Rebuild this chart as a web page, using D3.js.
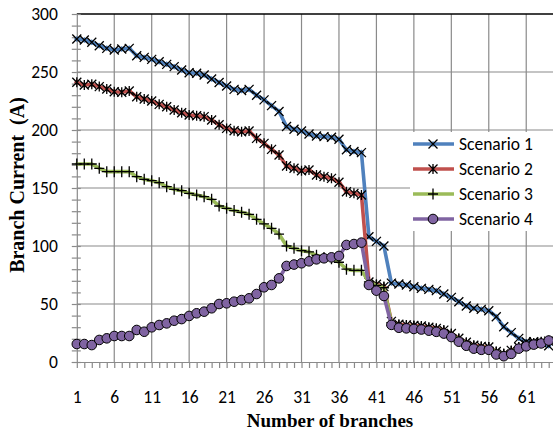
<!DOCTYPE html>
<html>
<head>
	<meta charset="utf-8">
	<title>Branch current by scenario</title>
	<script type="text/javascript" src="https://cdn.jsdelivr.net/npm/d3@7"></script>
	<style>
		body {
			margin: 0;
			background: #fff;
		}
	</style>
</head>

<body>

	<div id="chart"></div>

	<script>

		// data

		const branches = [
			1, 2, 3, 4, 5, 6, 7, 8, 9, 10, 11, 12, 13, 14, 15, 16,
			17, 18, 19, 20, 21, 22, 23, 24, 25, 26, 27, 28, 29, 30, 31, 32,
			33, 34, 35, 36, 37, 38, 39, 40, 41, 42, 43, 44, 45, 46, 47, 48,
			49, 50, 51, 52, 53, 54, 55, 56, 57, 58, 59, 60, 61, 62, 63, 64
		];

		const scenario1 = [
			278.4, 277.6, 275.6, 272.7, 270.4, 269, 269.8, 270.4, 264, 262.6, 260.9, 258.9, 256.6, 254.6, 251.7, 249.4,
			248.9, 247.4, 244, 241, 238, 235, 234, 235, 230, 226, 221, 216, 203, 200.6, 199.1, 196.6,
			194.8, 194.3, 193.7, 192, 183, 181.5, 180.5, 108, 104, 100, 68, 67.2, 66.4, 64.9, 63.5, 62.6,
			61.5, 58.6, 55.7, 52, 48.3, 46.3, 45.4, 44.2, 39, 30.4, 25.3, 20.4, 17.5, 17.5, 16.7, 14
		];

		const scenario2 = [
			241.1, 238.8, 239.4, 237.4, 235.3, 233, 232.5, 233.6, 228.7, 226.7, 225, 222.1, 220.1, 217.2, 214.9, 212.9,
			212.3, 211.5, 208.6, 204.5, 201.4, 199.4, 198.5, 199.1, 192.8, 188.5, 183.3, 178.4, 169, 167, 164.9, 165.5,
			161.2, 159.8, 158.3, 155, 146.8, 145.4, 144, 69, 67, 65, 35, 32.5, 32, 31.5, 31, 30,
			29, 27.5, 24.5, 20.5, 17, 14.5, 13.5, 13, 9, 7, 10, 13, 15, 16, 17, 18
		];

		const scenario3 = [
			170.7, 170.7, 170.7, 167, 164.1, 164.1, 164.1, 164.1, 159.8, 157.5, 156.3, 154.6, 151.1, 148.9, 147.7, 145.4,
			143.9, 142.5, 140.2, 134.5, 132.5, 130.5, 129, 127.3, 123, 119, 115.2, 110.3, 100, 98, 96, 95,
			92, 90, 89, 86, 80, 79, 79, 69, 66, 64, 34, 31.5, 31, 30.5, 30, 29,
			28, 26.5, 23.5, 19.5, 16, 13.5, 12.5, 12.5, 8.5, 7, 9, 12.5, 14.5, 16, 17, 18
		];

		const scenario4 = [
			15.5, 15.5, 14.6, 19, 20.4, 22.4, 22.4, 22.4, 27.6, 26.1, 29.9, 31.9, 33.3, 35.6, 37, 39.7,
			42, 43.4, 46.3, 50, 50.6, 52, 53.4, 54.9, 58.6, 64.4, 66.4, 72.1, 82.8, 84, 85.1, 86.8,
			88.5, 89.4, 90.2, 91.4, 100.9, 101.7, 102.9, 66.4, 61.5, 56.9, 32, 29.5, 29, 28.5, 28, 27,
			26, 24.5, 21.5, 17.5, 14, 11.5, 10.5, 10.5, 6.5, 5, 7, 11.5, 13.5, 15, 16, 18.5
		];

		const seriesNames = ["Scenario 1", "Scenario 2", "Scenario 3", "Scenario 4"];
		const xTickLabels = [1, 6, 11, 16, 21, 26, 31, 36, 41, 46, 51, 56, 61];
		const yTickValues = [0, 50, 100, 150, 200, 250, 300];
		const yMinorValues = [0, 10, 20, 30, 40, 50, 60, 70, 80, 90, 100, 110, 120, 130, 140, 150,
			160, 170, 180, 190, 200, 210, 220, 230, 240, 250, 260, 270, 280, 290, 300];

		// look

		const width = 553;
		const height = 432;
		const colors = ["#4f81bd", "#c0504d", "#9bbb59", "#8064a2"];
		const markers = ["x", "star", "plus", "circle"];
		const gridColor = "#8a8a8a";
		const labelFont = "Carlito, Lato, 'Open Sans', sans-serif";
		const titleFont = "'Liberation Serif', 'Times New Roman', serif";

		const x = d3.scaleLinear().domain([1, 64]).range([76.8, 548.7]);
		const y = d3.scaleLinear().domain([0, 300]).range([362, 14]);

		const svg = d3.select("#chart")
			.append("svg")
			.attr("width", width)
			.attr("height", height)
			.style("display", "block");

		svg.append("rect")
			.attr("width", width)
			.attr("height", height)
			.attr("fill", "#fff");

		// gridlines
		svg.append("g")
			.selectAll("line")
			.data(yTickValues.filter(d => d > 0 && d < 300))
			.join("line")
			.attr("x1", x(1))
			.attr("x2", width)
			.attr("y1", d => y(d))
			.attr("y2", d => y(d))
			.attr("stroke", gridColor)
			.attr("stroke-width", 1.2);

		svg.append("g")
			.selectAll("line")
			.data(xTickLabels.filter(d => d > 1))
			.join("line")
			.attr("x1", d => x(d))
			.attr("x2", d => x(d))
			.attr("y1", y(300))
			.attr("y2", y(0))
			.attr("stroke", gridColor)
			.attr("stroke-width", 1.2);

		// plot area top border
		svg.append("line")
			.attr("x1", x(1))
			.attr("x2", width)
			.attr("y1", y(300))
			.attr("y2", y(300))
			.attr("stroke", "#000")
			.attr("stroke-width", 1.3);

		// y axis: ticks crossing the axis line
		svg.append("g")
			.attr("transform", `translate(${x(1)},0)`)
			.call(d3.axisLeft(y)
				.tickValues(yMinorValues)
				.tickSize(5)
				.tickSizeOuter(0)
				.tickPadding(14)
				.tickFormat(d => yTickValues.includes(d) ? d : ""));

		svg.append("g")
			.attr("transform", `translate(${x(1)},0)`)
			.call(d3.axisRight(y)
				.tickValues(yMinorValues)
				.tickSize(4)
				.tickSizeOuter(0)
				.tickFormat(""))
			.call(g => g.select(".domain").remove());

		// x axis
		const xAxis = svg.append("g")
			.attr("transform", `translate(0,${y(0)})`)
			.call(d3.axisBottom(x)
				.tickValues(branches)
				.tickSize(6)
				.tickSizeOuter(0)
				.tickPadding(23)
				.tickFormat(d => xTickLabels.includes(d) ? d : ""));

		xAxis.select(".domain").attr("d", `M${x(1) - 5},0.5H${width}`);

		svg.selectAll(".tick line, .domain")
			.attr("stroke", gridColor)
			.attr("stroke-width", 1.2);

		svg.selectAll(".tick text")
			.attr("fill", "#000")
			.style("font-family", labelFont)
			.style("font-size", "17.5px");

		// markers
		function drawMarker(sel, type, color) {
			if (type === "circle") {
				sel.append("circle")
					.attr("r", 4.8)
					.attr("fill", color)
					.attr("stroke", "#000")
					.attr("stroke-width", 1);
				return;
			}
			if (type !== "plus") {
				sel.append("path")
					.attr("d", "M0,-3L3,0L0,3L-3,0Z")
					.attr("fill", color);
			}
			const d = {
				x: "M-4.5,-4.5L4.5,4.5M-4.5,4.5L4.5,-4.5",
				star: "M-4.5,-4.5L4.5,4.5M-4.5,4.5L4.5,-4.5M0,-5L0,5",
				plus: "M-5,0L5,0M0,-5.5L0,5.5"
			}[type];
			sel.append("path")
				.attr("d", d)
				.attr("fill", "none")
				.attr("stroke", "#000")
				.attr("stroke-width", 1.3);
		}

		const seriesValues = [scenario1, scenario2, scenario3, scenario4];

		const line = d3.line()
			.x(d => x(d[0]))
			.y(d => y(d[1]));

		seriesValues.forEach((values, s) => {
			const pts = branches.map((b, i) => [b, values[i]]);
			const g = svg.append("g");
			g.append("path")
				.datum(pts)
				.attr("d", line)
				.attr("fill", "none")
				.attr("stroke", colors[s])
				.attr("stroke-width", 3.6)
				.attr("stroke-linejoin", "round")
				.attr("stroke-linecap", "round");
			g.selectAll("g")
				.data(pts)
				.join("g")
				.attr("transform", d => `translate(${x(d[0])},${y(d[1])})`)
				.each(function () { drawMarker(d3.select(this), markers[s], colors[s]); });
		});

		// legend
		const legend = svg.append("g");

		legend.append("rect")
			.attr("x", 410)
			.attr("y", 132)
			.attr("width", width - 410)
			.attr("height", 99)
			.attr("fill", "#fff");

		const item = legend.selectAll("g")
			.data(seriesNames)
			.join("g")
			.attr("transform", (d, i) => `translate(0,${144 + i * 25})`);

		item.append("line")
			.attr("x1", 413)
			.attr("x2", 454)
			.attr("stroke", (d, i) => colors[i])
			.attr("stroke-width", 3.6);

		item.append("g")
			.attr("transform", "translate(433,0)")
			.each(function (d, i) { drawMarker(d3.select(this), markers[i], colors[i]); });

		item.append("text")
			.attr("x", 459)
			.attr("dy", "0.35em")
			.style("font-family", labelFont)
			.style("font-size", "17.5px")
			.text(d => d);

		// axis titles
		svg.append("text")
			.attr("x", 330)
			.attr("y", 427)
			.attr("text-anchor", "middle")
			.style("font-family", titleFont)
			.style("font-weight", "bold")
			.style("font-size", "19px")
			.text("Number of branches");

		svg.append("text")
			.attr("transform", "translate(24,185) rotate(-90)")
			.attr("text-anchor", "middle")
			.style("font-family", titleFont)
			.style("font-weight", "bold")
			.style("font-size", "20px")
			.style("white-space", "pre")
			.text("Branch Current  (A)");

	</script>

</body>

</html>
